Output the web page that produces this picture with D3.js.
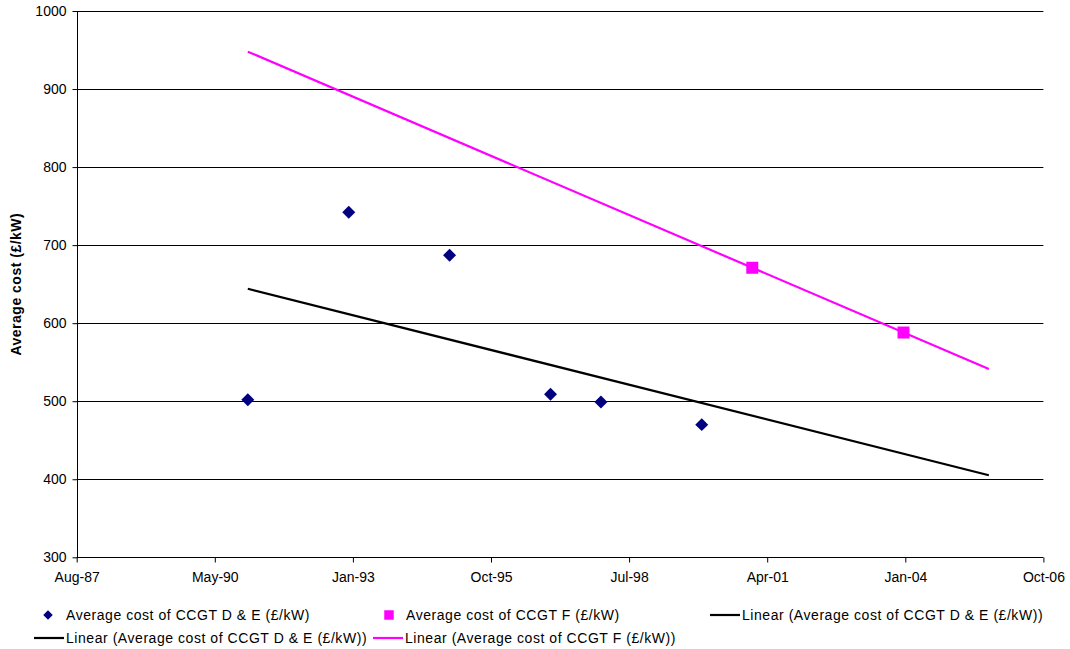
<!DOCTYPE html>
<html>
<head>
<meta charset="utf-8">
<script src="https://cdn.jsdelivr.net/npm/d3@7"></script>
<style>
  html, body { margin: 0; padding: 0; background: #fff; }
  svg { display: block; font-family: "Liberation Sans", Arial, sans-serif; }
</style>
</head>
<body>
<svg id="chart" width="1070" height="649"></svg>
<script>
// CCGT D & E cost observations
const deDates = ["1991-01-01", "1993-01-01", "1995-01-01", "1997-01-01", "1998-01-01", "2000-01-01"];
const deCosts = [502, 742, 687, 509, 499, 470];

// CCGT F cost observations
const fDates = ["2001-01-01", "2004-01-01"];
const fCosts = [671, 588];

// Extent of the fitted trend lines
const trendStart = "1991-01-01";
const trendEnd = "2005-09-10";

// Axes: date serials (days since 1899-12-30) for the x ticks, and y ticks
const xTickSerials = [32000, 33000, 34000, 35000, 36000, 37000, 38000, 39000];
const xTickLabels = ["Aug-87", "May-90", "Jan-93", "Oct-95", "Jul-98", "Apr-01", "Jan-04", "Oct-06"];
const yTicks = [300, 400, 500, 600, 700, 800, 900, 1000];

const yTitle = "Average cost (£/kW)";
const legendLabels = [
  "Average cost of CCGT D & E (£/kW)",
  "Average cost of CCGT F (£/kW)",
  "Linear (Average cost of CCGT D & E (£/kW))",
  "Linear (Average cost of CCGT D & E (£/kW))",
  "Linear (Average cost of CCGT F (£/kW))"
];

const NAVY = "#000080", MAGENTA = "#FF00FF";
const FONT = "Liberation Sans, Arial, sans-serif";
const parse = d3.utcParse("%Y-%m-%d");
const serialToDate = s => new Date(Date.UTC(1899, 11, 30) + s * 86400000);

const svg = d3.select("#chart");
const M = { left: 76.7, right: 1043.4, top: 11, bottom: 557.3 };

const x = d3.scaleUtc()
  .domain([serialToDate(xTickSerials[0]), serialToDate(xTickSerials[xTickSerials.length - 1])])
  .range([M.left, M.right]);
const y = d3.scaleLinear().domain([300, 1000]).range([M.bottom, M.top]);

// Horizontal gridlines
svg.append("g").selectAll("line")
  .data(yTicks.filter(v => v > 300))
  .join("line")
  .attr("x1", M.left).attr("x2", M.right)
  .attr("y1", d => Math.round(y(d)) + 0.5).attr("y2", d => Math.round(y(d)) + 0.5)
  .attr("stroke", "#000").attr("stroke-width", 1);

// Y axis
const yAxis = svg.append("g")
  .attr("transform", `translate(${Math.round(M.left) + 0.5},0)`)
  .call(d3.axisLeft(y).tickValues(yTicks).tickSize(5).tickPadding(6).tickFormat(d3.format("d")));
yAxis.select(".domain").attr("d", `M0,${M.top}V${M.bottom}`).attr("stroke", "#000");
yAxis.selectAll("text").attr("font-size", 14).attr("fill", "#000").attr("font-family", FONT);

// X axis
const xAxis = svg.append("g")
  .attr("transform", `translate(0,${Math.round(M.bottom) + 0.5})`)
  .call(d3.axisBottom(x)
    .tickValues(xTickSerials.map(serialToDate))
    .tickSize(5).tickPadding(10)
    .tickFormat((d, i) => xTickLabels[i]));
xAxis.select(".domain").attr("d", `M${M.left},0H${M.right}`).attr("stroke", "#000");
xAxis.selectAll("text").attr("font-size", 14).attr("fill", "#000").attr("font-family", FONT);

// Y axis title
svg.append("text")
  .attr("transform", `translate(21,${(M.top + M.bottom) / 2}) rotate(-90)`)
  .attr("text-anchor", "middle")
  .attr("font-size", 14).attr("font-weight", "bold").attr("letter-spacing", 0.5)
  .text(yTitle);

// Least-squares fit over time
function linearFit(dates, values) {
  const xs = dates.map(d => +parse(d));
  const mx = d3.mean(xs), my = d3.mean(values);
  const sxy = d3.sum(xs, (v, i) => (v - mx) * (values[i] - my));
  const sxx = d3.sum(xs, v => (v - mx) * (v - mx));
  const slope = sxy / sxx;
  return t => my + slope * (t - mx);
}

const t0 = +parse(trendStart), t1 = +parse(trendEnd);
const trendLine = d3.line().x(d => x(new Date(d[0]))).y(d => y(d[1]));

const fitDE = linearFit(deDates, deCosts);
const fitF = linearFit(fDates, fCosts);

svg.append("path")
  .attr("d", trendLine([[t0, fitDE(t0)], [t1, fitDE(t1)]]))
  .attr("stroke", "#000").attr("stroke-width", 2.2).attr("fill", "none");
svg.append("path")
  .attr("d", trendLine([[t0, fitF(t0)], [t1, fitF(t1)]]))
  .attr("stroke", MAGENTA).attr("stroke-width", 2.2).attr("fill", "none");

// Markers
const diamond = d3.symbol().type(d3.symbolSquare).size(84);
svg.append("g").selectAll("path")
  .data(deDates.map((d, i) => [parse(d), deCosts[i]]))
  .join("path")
  .attr("d", diamond)
  .attr("transform", d => `translate(${x(d[0])},${y(d[1])}) rotate(45)`)
  .attr("fill", NAVY);

const square = d3.symbol().type(d3.symbolSquare).size(144);
svg.append("g").selectAll("path")
  .data(fDates.map((d, i) => [parse(d), fCosts[i]]))
  .join("path")
  .attr("d", square)
  .attr("transform", d => `translate(${x(d[0])},${y(d[1])})`)
  .attr("fill", MAGENTA);

// Legend
const legendItems = [
  { kind: "diamond", color: NAVY, x: 48, y: 615, label: legendLabels[0] },
  { kind: "square", color: MAGENTA, x: 389, y: 615, label: legendLabels[1] },
  { kind: "line", color: "#000", x: 710, y: 615, label: legendLabels[2] },
  { kind: "line", color: "#000", x: 34, y: 638, label: legendLabels[3] },
  { kind: "line", color: MAGENTA, x: 373, y: 638, label: legendLabels[4] }
];
const lg = svg.append("g").selectAll("g").data(legendItems).join("g")
  .attr("transform", d => `translate(${d.x},${d.y})`);
lg.each(function (d) {
  const g = d3.select(this);
  let tx;
  if (d.kind === "diamond") {
    g.append("path").attr("d", d3.symbol().type(d3.symbolSquare).size(45)())
      .attr("transform", "rotate(45)").attr("fill", d.color);
    tx = 18;
  } else if (d.kind === "square") {
    g.append("path").attr("d", d3.symbol().type(d3.symbolSquare).size(90)()).attr("fill", d.color);
    tx = 17;
  } else {
    g.append("line").attr("x1", 0).attr("x2", 30).attr("y1", 0).attr("y2", 0)
      .attr("stroke", d.color).attr("stroke-width", 2.2);
    tx = 32;
  }
  g.append("text").attr("x", tx).attr("y", 0).attr("dy", "0.36em")
    .attr("font-size", 14).attr("letter-spacing", 0.55).text(d.label);
});
</script>
</body>
</html>
